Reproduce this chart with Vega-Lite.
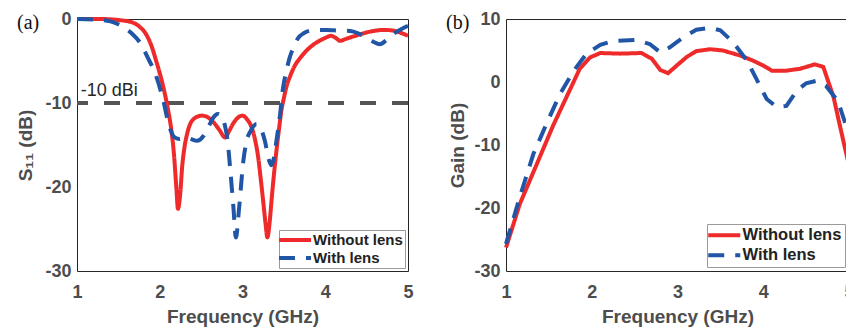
{
  "$schema": "https://vega.github.io/schema/vega-lite/v6.json",
  "background": "white",
  "padding": {"left": 16, "top": 9, "right": 0, "bottom": 0},
  "spacing": 28,
  "datasets": {
    "a": [
      {"f":1,"v":0,"s":"Without lens"},{"f":1.28,"v":0,"s":"Without lens"},{"f":1.48,"v":-0.1,"s":"Without lens"},{"f":1.6,"v":-0.25,"s":"Without lens"},{"f":1.68,"v":-0.45,"s":"Without lens"},{"f":1.76,"v":-0.95,"s":"Without lens"},{"f":1.84,"v":-1.9,"s":"Without lens"},{"f":1.9,"v":-3.2,"s":"Without lens"},{"f":1.96,"v":-5.1,"s":"Without lens"},{"f":2.01,"v":-6.8,"s":"Without lens"},{"f":2.05,"v":-8.4,"s":"Without lens"},{"f":2.1,"v":-10.8,"s":"Without lens"},{"f":2.14,"v":-13.2,"s":"Without lens"},{"f":2.17,"v":-15.9,"s":"Without lens"},{"f":2.2,"v":-20,"s":"Without lens"},{"f":2.22,"v":-22.6,"s":"Without lens"},{"f":2.25,"v":-20.5,"s":"Without lens"},{"f":2.27,"v":-17.7,"s":"Without lens"},{"f":2.3,"v":-15.2,"s":"Without lens"},{"f":2.33,"v":-13.7,"s":"Without lens"},{"f":2.41,"v":-11.9,"s":"Without lens"},{"f":2.51,"v":-11.5,"s":"Without lens"},{"f":2.58,"v":-11.7,"s":"Without lens"},{"f":2.65,"v":-12.3,"s":"Without lens"},{"f":2.72,"v":-13.2,"s":"Without lens"},{"f":2.79,"v":-14.1,"s":"Without lens"},{"f":2.84,"v":-13.3,"s":"Without lens"},{"f":2.89,"v":-12.4,"s":"Without lens"},{"f":2.95,"v":-11.7,"s":"Without lens"},{"f":3.0,"v":-11.5,"s":"Without lens"},{"f":3.06,"v":-12.0,"s":"Without lens"},{"f":3.11,"v":-12.9,"s":"Without lens"},{"f":3.15,"v":-14.3,"s":"Without lens"},{"f":3.19,"v":-16.5,"s":"Without lens"},{"f":3.22,"v":-19,"s":"Without lens"},{"f":3.25,"v":-21.7,"s":"Without lens"},{"f":3.28,"v":-24.5,"s":"Without lens"},{"f":3.3,"v":-26.0,"s":"Without lens"},{"f":3.33,"v":-24,"s":"Without lens"},{"f":3.35,"v":-21.7,"s":"Without lens"},{"f":3.38,"v":-18.5,"s":"Without lens"},{"f":3.41,"v":-15.7,"s":"Without lens"},{"f":3.44,"v":-13.2,"s":"Without lens"},{"f":3.47,"v":-10.9,"s":"Without lens"},{"f":3.5,"v":-9.4,"s":"Without lens"},{"f":3.53,"v":-8.1,"s":"Without lens"},{"f":3.58,"v":-6.7,"s":"Without lens"},{"f":3.63,"v":-5.6,"s":"Without lens"},{"f":3.7,"v":-4.6,"s":"Without lens"},{"f":3.77,"v":-3.8,"s":"Without lens"},{"f":3.85,"v":-3.1,"s":"Without lens"},{"f":3.93,"v":-2.6,"s":"Without lens"},{"f":4.0,"v":-2.25,"s":"Without lens"},{"f":4.07,"v":-2.0,"s":"Without lens"},{"f":4.12,"v":-2.2,"s":"Without lens"},{"f":4.18,"v":-2.6,"s":"Without lens"},{"f":4.24,"v":-2.4,"s":"Without lens"},{"f":4.3,"v":-2.2,"s":"Without lens"},{"f":4.4,"v":-1.9,"s":"Without lens"},{"f":4.5,"v":-1.6,"s":"Without lens"},{"f":4.6,"v":-1.4,"s":"Without lens"},{"f":4.7,"v":-1.3,"s":"Without lens"},{"f":4.8,"v":-1.35,"s":"Without lens"},{"f":4.9,"v":-1.6,"s":"Without lens"},{"f":5.0,"v":-2.0,"s":"Without lens"},
      {"f":1,"v":0,"s":"With lens"},{"f":1.2,"v":-0.05,"s":"With lens"},{"f":1.37,"v":-0.2,"s":"With lens"},{"f":1.46,"v":-0.45,"s":"With lens"},{"f":1.54,"v":-0.85,"s":"With lens"},{"f":1.66,"v":-1.7,"s":"With lens"},{"f":1.78,"v":-3.1,"s":"With lens"},{"f":1.86,"v":-4.7,"s":"With lens"},{"f":1.92,"v":-5.9,"s":"With lens"},{"f":1.97,"v":-7.2,"s":"With lens"},{"f":2.01,"v":-8.5,"s":"With lens"},{"f":2.05,"v":-10.0,"s":"With lens"},{"f":2.09,"v":-11.8,"s":"With lens"},{"f":2.13,"v":-13.2,"s":"With lens"},{"f":2.18,"v":-14.1,"s":"With lens"},{"f":2.24,"v":-14.3,"s":"With lens"},{"f":2.31,"v":-14.1,"s":"With lens"},{"f":2.38,"v":-14.3,"s":"With lens"},{"f":2.45,"v":-14.5,"s":"With lens"},{"f":2.53,"v":-13.9,"s":"With lens"},{"f":2.6,"v":-12.6,"s":"With lens"},{"f":2.65,"v":-11.7,"s":"With lens"},{"f":2.7,"v":-11.3,"s":"With lens"},{"f":2.75,"v":-11.6,"s":"With lens"},{"f":2.79,"v":-12.8,"s":"With lens"},{"f":2.82,"v":-14.5,"s":"With lens"},{"f":2.85,"v":-17.7,"s":"With lens"},{"f":2.89,"v":-22.4,"s":"With lens"},{"f":2.92,"v":-26.0,"s":"With lens"},{"f":2.96,"v":-22.4,"s":"With lens"},{"f":3.01,"v":-16.9,"s":"With lens"},{"f":3.05,"v":-14.5,"s":"With lens"},{"f":3.1,"v":-13.3,"s":"With lens"},{"f":3.17,"v":-12.5,"s":"With lens"},{"f":3.22,"v":-13.0,"s":"With lens"},{"f":3.27,"v":-14.5,"s":"With lens"},{"f":3.32,"v":-16.8,"s":"With lens"},{"f":3.35,"v":-17.4,"s":"With lens"},{"f":3.38,"v":-16.5,"s":"With lens"},{"f":3.41,"v":-14.5,"s":"With lens"},{"f":3.45,"v":-11.7,"s":"With lens"},{"f":3.49,"v":-8.2,"s":"With lens"},{"f":3.53,"v":-6.2,"s":"With lens"},{"f":3.57,"v":-4.6,"s":"With lens"},{"f":3.62,"v":-3.3,"s":"With lens"},{"f":3.67,"v":-2.3,"s":"With lens"},{"f":3.74,"v":-1.7,"s":"With lens"},{"f":3.81,"v":-1.4,"s":"With lens"},{"f":3.9,"v":-1.3,"s":"With lens"},{"f":4.02,"v":-1.3,"s":"With lens"},{"f":4.1,"v":-1.35,"s":"With lens"},{"f":4.18,"v":-1.4,"s":"With lens"},{"f":4.26,"v":-1.4,"s":"With lens"},{"f":4.34,"v":-1.5,"s":"With lens"},{"f":4.42,"v":-1.8,"s":"With lens"},{"f":4.5,"v":-2.2,"s":"With lens"},{"f":4.58,"v":-2.7,"s":"With lens"},{"f":4.66,"v":-3.0,"s":"With lens"},{"f":4.74,"v":-2.5,"s":"With lens"},{"f":4.82,"v":-1.8,"s":"With lens"},{"f":4.9,"v":-1.3,"s":"With lens"},{"f":5.0,"v":-0.8,"s":"With lens"}
    ],
    "b": [
      {"f":1,"v":-26.3,"s":"Without lens"},{"f":1.16,"v":-19.4,"s":"Without lens"},{"f":1.36,"v":-13.0,"s":"Without lens"},{"f":1.55,"v":-6.9,"s":"Without lens"},{"f":1.75,"v":-1.1,"s":"Without lens"},{"f":1.86,"v":2.1,"s":"Without lens"},{"f":1.98,"v":3.9,"s":"Without lens"},{"f":2.1,"v":4.6,"s":"Without lens"},{"f":2.33,"v":4.5,"s":"Without lens"},{"f":2.58,"v":4.6,"s":"Without lens"},{"f":2.7,"v":3.7,"s":"Without lens"},{"f":2.8,"v":1.9,"s":"Without lens"},{"f":2.89,"v":1.4,"s":"Without lens"},{"f":2.99,"v":2.6,"s":"Without lens"},{"f":3.11,"v":4.0,"s":"Without lens"},{"f":3.22,"v":4.9,"s":"Without lens"},{"f":3.38,"v":5.2,"s":"Without lens"},{"f":3.53,"v":5.0,"s":"Without lens"},{"f":3.73,"v":4.2,"s":"Without lens"},{"f":3.88,"v":3.4,"s":"Without lens"},{"f":4.0,"v":2.6,"s":"Without lens"},{"f":4.1,"v":1.8,"s":"Without lens"},{"f":4.27,"v":1.8,"s":"Without lens"},{"f":4.43,"v":2.1,"s":"Without lens"},{"f":4.6,"v":2.8,"s":"Without lens"},{"f":4.7,"v":2.4,"s":"Without lens"},{"f":4.82,"v":-2.4,"s":"Without lens"},{"f":4.89,"v":-6.7,"s":"Without lens"},{"f":4.96,"v":-10.9,"s":"Without lens"},{"f":5.0,"v":-13.2,"s":"Without lens"},
      {"f":1,"v":-25.7,"s":"With lens"},{"f":1.16,"v":-18.3,"s":"With lens"},{"f":1.32,"v":-11.4,"s":"With lens"},{"f":1.47,"v":-6.7,"s":"With lens"},{"f":1.63,"v":-1.9,"s":"With lens"},{"f":1.79,"v":1.8,"s":"With lens"},{"f":1.94,"v":4.5,"s":"With lens"},{"f":2.1,"v":5.9,"s":"With lens"},{"f":2.25,"v":6.5,"s":"With lens"},{"f":2.52,"v":6.7,"s":"With lens"},{"f":2.68,"v":6.0,"s":"With lens"},{"f":2.8,"v":4.7,"s":"With lens"},{"f":2.91,"v":5.5,"s":"With lens"},{"f":3.07,"v":7.1,"s":"With lens"},{"f":3.22,"v":8.3,"s":"With lens"},{"f":3.38,"v":8.6,"s":"With lens"},{"f":3.5,"v":8.2,"s":"With lens"},{"f":3.65,"v":6.3,"s":"With lens"},{"f":3.81,"v":3.4,"s":"With lens"},{"f":3.92,"v":0.5,"s":"With lens"},{"f":4.04,"v":-2.7,"s":"With lens"},{"f":4.16,"v":-4.0,"s":"With lens"},{"f":4.27,"v":-3.8,"s":"With lens"},{"f":4.39,"v":-1.4,"s":"With lens"},{"f":4.5,"v":-0.2,"s":"With lens"},{"f":4.62,"v":0.2,"s":"With lens"},{"f":4.73,"v":-0.6,"s":"With lens"},{"f":4.87,"v":-3.0,"s":"With lens"},{"f":4.96,"v":-6.7,"s":"With lens"},{"f":5.0,"v":-8.0,"s":"With lens"}
    ]
  },
  "config": {
    "view": {"stroke": "#262626", "strokeWidth": 1, "fill": "white"},
    "axis": {
      "labelFont": "Liberation Sans", "labelFontWeight": "bold", "labelFontSize": 18, "labelColor": "#4d4d4d",
      "titleFont": "Liberation Sans", "titleFontWeight": "bold", "titleFontSize": 19, "titleColor": "#4d4d4d",
      "gridColor": "#e2e2e2", "gridWidth": 1, "domain": false, "ticks": false,
      "labelExpr": "replace(datum.label, '−', '-')"
    },
    "axisX": {"labelPadding": 12, "titlePadding": 6, "labelFlush": false},
    "axisY": {"labelPadding": 6},
    "legend": {
      "orient": "bottom-right", "offset": 3, "title": null,
      "strokeColor": "#9a9a9a", "fillColor": "white", "padding": 2, "cornerRadius": 0,
      "symbolType": "M-2.67,0H2.67", "symbolSize": 144, "symbolStrokeWidth": 4, "symbolOffset": 6,
      "labelFont": "Liberation Sans", "labelFontWeight": "bold", "labelFontSize": 15, "labelColor": "#222222",
      "labelOffset": 10, "rowPadding": 2
    }
  },
  "resolve": {"scale": {"x": "independent", "y": "independent", "color": "independent", "strokeDash": "independent"}, "legend": {"color": "independent", "strokeDash": "independent"}},
  "hconcat": [
    {
      "width": 331, "height": 252,
      "layer": [
        {
          "data": {"values": [{}]},
          "mark": {"type": "rule", "color": "#555555", "strokeWidth": 4, "strokeDash": [16, 16]},
          "encoding": {"y": {"datum": -10, "type": "quantitative", "scale": {"domain": [-30, 0], "nice": false}}}
        },
        {
          "data": {"values": [{}]},
          "mark": {"type": "text", "font": "Liberation Sans", "fontSize": 18, "color": "#262626", "align": "left", "baseline": "alphabetic", "dy": -7},
          "encoding": {"x": {"datum": 1.045, "type": "quantitative", "scale": {"domain": [1, 5], "nice": false, "zero": false}}, "y": {"datum": -10, "type": "quantitative", "scale": {"domain": [-30, 0], "nice": false}}, "text": {"value": "-10 dBi"}}
        },
        {
          "data": {"values": [{}]},
          "mark": {"type": "text", "font": "Liberation Serif", "fontSize": 20, "color": "#111111", "align": "left", "baseline": "middle", "dy": 4},
          "encoding": {"x": {"datum": 0.275, "type": "quantitative", "scale": {"domain": [1, 5], "nice": false, "zero": false}}, "y": {"datum": 0, "type": "quantitative", "scale": {"domain": [-30, 0], "nice": false}}, "text": {"value": "(a)"}}
        },
        {
          "data": {"name": "a"},
          "mark": {"type": "line", "strokeWidth": 4, "interpolate": "monotone", "strokeCap": "butt"},
          "encoding": {
            "x": {"field": "f", "type": "quantitative", "title": "Frequency (GHz)", "scale": {"domain": [1, 5], "nice": false, "zero": false}, "axis": {"values": [1, 2, 3, 4, 5], "format": "d"}},
            "y": {"field": "v", "type": "quantitative", "title": "S₁₁ (dB)", "scale": {"domain": [-30, 0], "nice": false}, "axis": {"values": [0, -10, -20, -30], "titlePadding": 9}},
            "color": {"field": "s", "type": "nominal", "scale": {"domain": ["Without lens", "With lens"], "range": ["#EE2A2A", "#2155A6"]}},
            "strokeDash": {"field": "s", "type": "nominal", "scale": {"domain": ["Without lens", "With lens"], "range": [[1, 0], [16, 11]]}}
          }
        }
      ]
    },
    {
      "width": 343, "height": 252,
      "layer": [
        {
          "data": {"values": [{}]},
          "mark": {"type": "text", "font": "Liberation Serif", "fontSize": 20, "color": "#111111", "align": "left", "baseline": "middle", "dy": 4},
          "encoding": {"x": {"datum": 0.3, "type": "quantitative", "scale": {"domain": [1, 5], "nice": false, "zero": false}}, "y": {"datum": 10, "type": "quantitative", "scale": {"domain": [-30, 10], "nice": false}}, "text": {"value": "(b)"}}
        },
        {
          "data": {"name": "b"},
          "mark": {"type": "line", "strokeWidth": 4, "strokeCap": "butt"},
          "encoding": {
            "x": {"field": "f", "type": "quantitative", "title": "Frequency (GHz)", "scale": {"domain": [1, 5], "nice": false, "zero": false}, "axis": {"values": [1, 2, 3, 4, 5], "format": "d"}},
            "y": {"field": "v", "type": "quantitative", "title": "Gain (dB)", "scale": {"domain": [-30, 10], "nice": false}, "axis": {"values": [10, 0, -10, -20, -30], "titlePadding": 6}},
            "color": {"field": "s", "type": "nominal", "scale": {"domain": ["Without lens", "With lens"], "range": ["#EE2A2A", "#2155A6"]}, "legend": {"labelFontSize": 16.5, "padding": 3, "rowPadding": 3, "offset": 4}},
            "strokeDash": {"field": "s", "type": "nominal", "scale": {"domain": ["Without lens", "With lens"], "range": [[1, 0], [16, 11]]}, "legend": {"labelFontSize": 16.5, "padding": 3, "rowPadding": 3, "offset": 4}}
          }
        }
      ]
    }
  ]
}
